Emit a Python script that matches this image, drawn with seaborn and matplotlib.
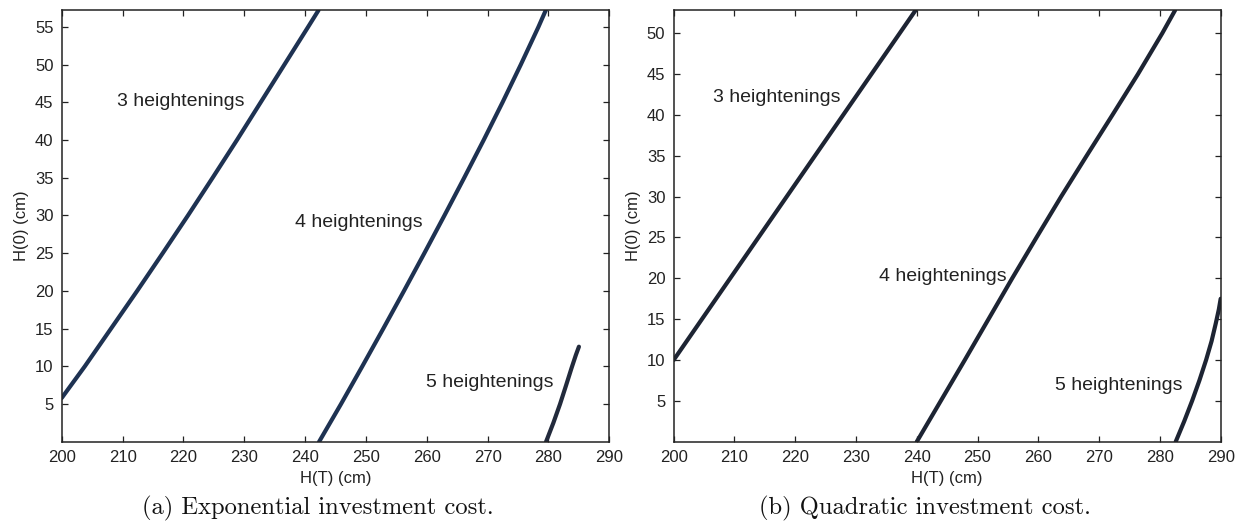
import matplotlib
matplotlib.use("Agg")
import matplotlib.pyplot as plt
import seaborn as sns
import pandas as pd

# ---- data ----
# (a) Exponential investment cost
exp3_x = [200.0, 203.8, 208.1, 212.4, 216.6, 220.75, 224.8, 228.8, 232.7, 236.6, 240.5, 242.2]
exp3_y = [5.8, 10, 15, 20, 25, 30, 35, 40, 45, 50, 55, 57.2]
exp4_x = [242.3, 245.9, 249.4, 252.85, 256.25, 259.6, 262.9, 266.15, 269.35, 272.45, 275.45, 278.35, 279.55]
exp4_y = [0, 5, 10, 15, 20, 25, 30, 35, 40, 45, 50, 55, 57.2]
exp5_x = [279.6, 280.8, 281.9, 282.9, 283.8, 284.5, 285.0]
exp5_y = [0, 2.5, 5, 7.5, 9.8, 11.5, 12.6]

# (b) Quadratic investment cost
quad3_x = [200.0, 204.65, 209.3, 213.95, 218.6, 223.25, 227.9, 232.55, 237.2, 239.8]
quad3_y = [10, 15, 20, 25, 30, 35, 40, 45, 50, 52.8]
quad4_x = [240.0, 243.95, 247.9, 251.8, 255.7, 259.7, 263.75, 267.95, 272.2, 276.4, 280.4, 282.5]
quad4_y = [0, 5, 10, 15, 20, 25, 30, 35, 40, 45, 50, 52.8]
quad5_x = [282.6, 284.0, 285.3, 286.5, 287.6, 288.5, 289.2, 289.7, 290.0]
quad5_y = [0, 2.5, 5, 7.5, 10, 12.3, 14.5, 16.2, 17.5]

labels = ["3 heightenings", "4 heightenings", "5 heightenings"]
exp_label_pos = [(219.5, 45.1), (248.9, 29.1), (270.3, 7.8)]
quad_label_pos = [(216.9, 42.1), (244.3, 20.2), (273.2, 6.9)]

x_ticks = [200, 210, 220, 230, 240, 250, 260, 270, 280, 290]
exp_y_ticks = [5, 10, 15, 20, 25, 30, 35, 40, 45, 50, 55]
quad_y_ticks = [5, 10, 15, 20, 25, 30, 35, 40, 45, 50]
captions = ["(a) Exponential investment cost.", "(b) Quadratic investment cost."]

sns.set_theme(style="white")
plt.rcParams["font.family"] = ["Liberation Sans", "DejaVu Sans"]
plt.rcParams["xtick.direction"] = "in"
plt.rcParams["ytick.direction"] = "in"

fig = plt.figure(figsize=(12.37, 5.22), dpi=100)
axL = fig.add_axes([0.0499, 0.1538, 0.4427, 0.8265])
axR = fig.add_axes([0.5446, 0.1538, 0.4422, 0.8265])

col_exp = "#1e3252"
col_exp5 = "#222a3c"
col_quad = "#1d2433"

def draw(ax, series, colors, ylim, yticks, label_pos):
    for (xs, ys), c in zip(series, colors):
        df = pd.DataFrame({"x": xs, "y": ys})
        sns.lineplot(data=df, x="x", y="y", ax=ax, color=c, linewidth=3.0,
                     estimator=None, sort=False, solid_capstyle="round",
                     solid_joinstyle="round")
    ax.set_xlim(200, 290)
    ax.set_ylim(*ylim)
    ax.set_xticks(x_ticks)
    ax.set_yticks(yticks)
    ax.tick_params(axis="both", which="both", direction="in", length=4.5, width=0.9,
                   top=True, right=True, bottom=True, left=True, labelsize=12,
                   colors="#222222", pad=6)
    for s in ax.spines.values():
        s.set_color("#222222")
        s.set_linewidth(1.1)
        s.set_visible(True)
    ax.set_xlabel("H(T) (cm)", fontsize=12, color="#222222", labelpad=4)
    ax.set_ylabel("H(0) (cm)", fontsize=12, color="#222222", labelpad=4)
    for t, (px, py) in zip(labels, label_pos):
        ax.text(px, py, t, fontsize=14, color="#222222", ha="center", va="center")

draw(axL, [(exp3_x, exp3_y), (exp4_x, exp4_y), (exp5_x, exp5_y)],
     [col_exp, col_exp, col_exp5], (0, 57.2), exp_y_ticks, exp_label_pos)
draw(axR, [(quad3_x, quad3_y), (quad4_x, quad4_y), (quad5_x, quad5_y)],
     [col_quad, col_quad, col_quad], (0, 52.8), quad_y_ticks, quad_label_pos)

fig.text(0.2567, 0.026, captions[0], fontsize=17.7, family="cmr10", ha="center", va="center", color="#111111")
fig.text(0.7478, 0.026, captions[1], fontsize=17.7, family="cmr10", ha="center", va="center", color="#111111")

fig.savefig("out.png", dpi=100)
